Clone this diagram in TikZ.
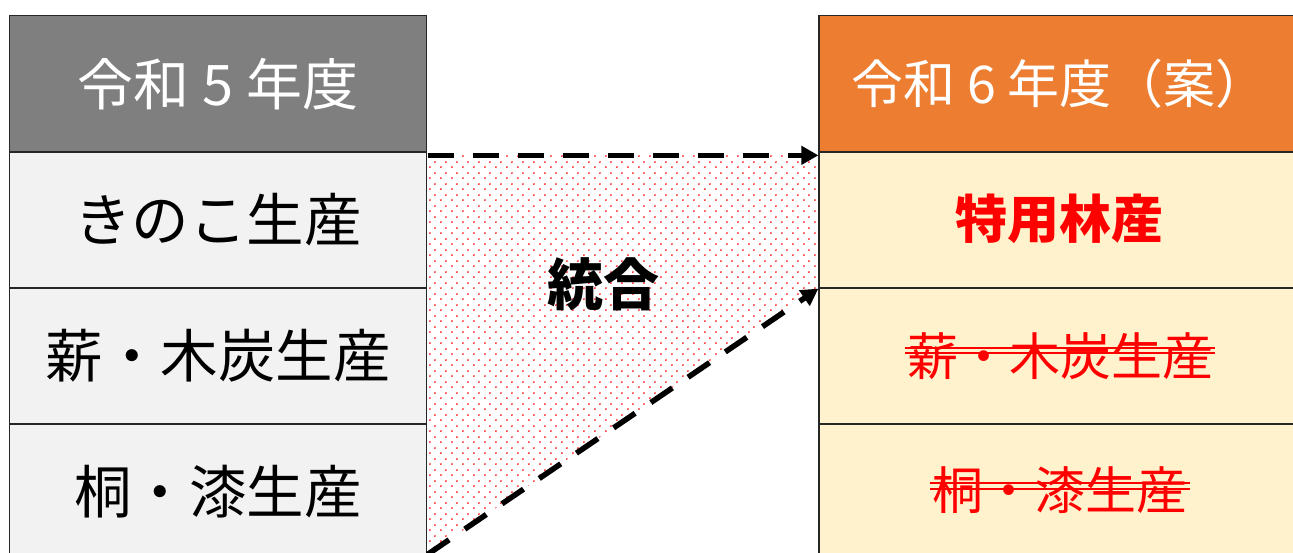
\documentclass[tikz,border=0pt]{standalone}
\usepackage{fontspec}
\setmainfont{Noto Sans CJK JP}
\usetikzlibrary{patterns.meta,arrows.meta,calc}
\definecolor{hdrgray}{HTML}{7F7F7F}
\definecolor{hdrorange}{HTML}{ED7D31}
\definecolor{cellgray}{HTML}{F2F2F2}
\definecolor{cellcream}{HTML}{FFF2CC}
\definecolor{redmark}{HTML}{FF0000}
\tikzdeclarepattern{
  name=reddots, type=uncolored,
  bounding box={(0pt,0pt) and (11pt,11pt)},
  tile size={(11pt,11pt)},
  code={\fill (1pt,1pt) circle (1.05pt); \fill (6.5pt,6.5pt) circle (1.05pt);}
}
\begin{document}
\begin{tikzpicture}[x=1pt,y=-1pt,
  cellbox/.style={draw=black!85, line width=1.2pt, minimum height=136pt, inner sep=0pt},
  leftcell/.style={cellbox, minimum width=417pt},
  rightcell/.style={cellbox, minimum width=481pt},
  hdrtext/.style={text=white, font=\fontsize{56}{60}\selectfont},
  bodytext/.style={text=black, font=\fontsize{57.5}{62}\selectfont},
  labeltext/.style={inner sep=0pt},
  flow/.style={line width=5.5pt, dash pattern=on 26pt off 19pt, -{Triangle[length=17pt,width=18pt]}},
  strikeline/.style={draw=redmark, line width=2pt}
]
\useasboundingbox (0,0) rectangle (1293,553);
\clip (0,0) rectangle (1293,553);

% left column
\node[leftcell, fill=hdrgray, hdrtext] (h5) at (218,83.75) {令和 5 年度};
\node[leftcell, fill=cellgray, bodytext] (l1) at (218,220) {きのこ生産};
\node[leftcell, fill=cellgray, bodytext] (l2) at (218,356) {薪・木炭生産};
\node[leftcell, fill=cellgray, bodytext] (l3) at (218,492) {桐・漆生産};

% right column
\node[rightcell, fill=hdrorange, text=white, font=\fontsize{52}{60}\selectfont] (h6) at (1059.5,83.75) {令和 6 年度（案）};
\node[rightcell, fill=cellcream] (r1) at (1059.5,220) {};
\node[rightcell, fill=cellcream] (r2) at (1059.5,356) {};
\node[rightcell, fill=cellcream] (r3) at (1059.5,492) {};

% dotted merge region
\coordinate (diagstart) at ($(l3.north east)+(0.5,131)$);
\fill[pattern=reddots, pattern color=redmark]
  (h5.south east) -- (h6.south west) -- (r1.south west) -- (diagstart) -- cycle;

% labels in right column
\node[labeltext, text=redmark, font=\fontsize{52}{60}\selectfont\bfseries] (t1) at (1059.5,219) {特用林産};
\node[labeltext, text=redmark, font=\fontsize{51}{60}\selectfont] (t2) at (1060,356) {薪・木炭生産};
\node[labeltext, text=redmark, font=\fontsize{51}{60}\selectfont] (t3) at (1060,490) {桐・漆生産};
\draw[strikeline] ($(t2.west)+(-2,-8)$) -- ($(t2.east)+(2,-8)$);
\draw[strikeline] ($(t2.west)+(-2,-3)$) -- ($(t2.east)+(2,-3)$);
\draw[strikeline] ($(t3.west)+(-2,-7)$) -- ($(t3.east)+(2,-7)$);
\draw[strikeline] ($(t3.west)+(-2,-1)$) -- ($(t3.east)+(2,-1)$);

% merge label
\node[labeltext, font=\fontsize{56}{60}\selectfont\bfseries] (merge) at (603,284) {統合};

% arrows
\draw[flow] ($(h5.south east)+(0.5,3)$) -- ($(h6.south west)+(0,3)$);
\draw[flow] (diagstart) -- (r1.south west);
\end{tikzpicture}
\end{document}
